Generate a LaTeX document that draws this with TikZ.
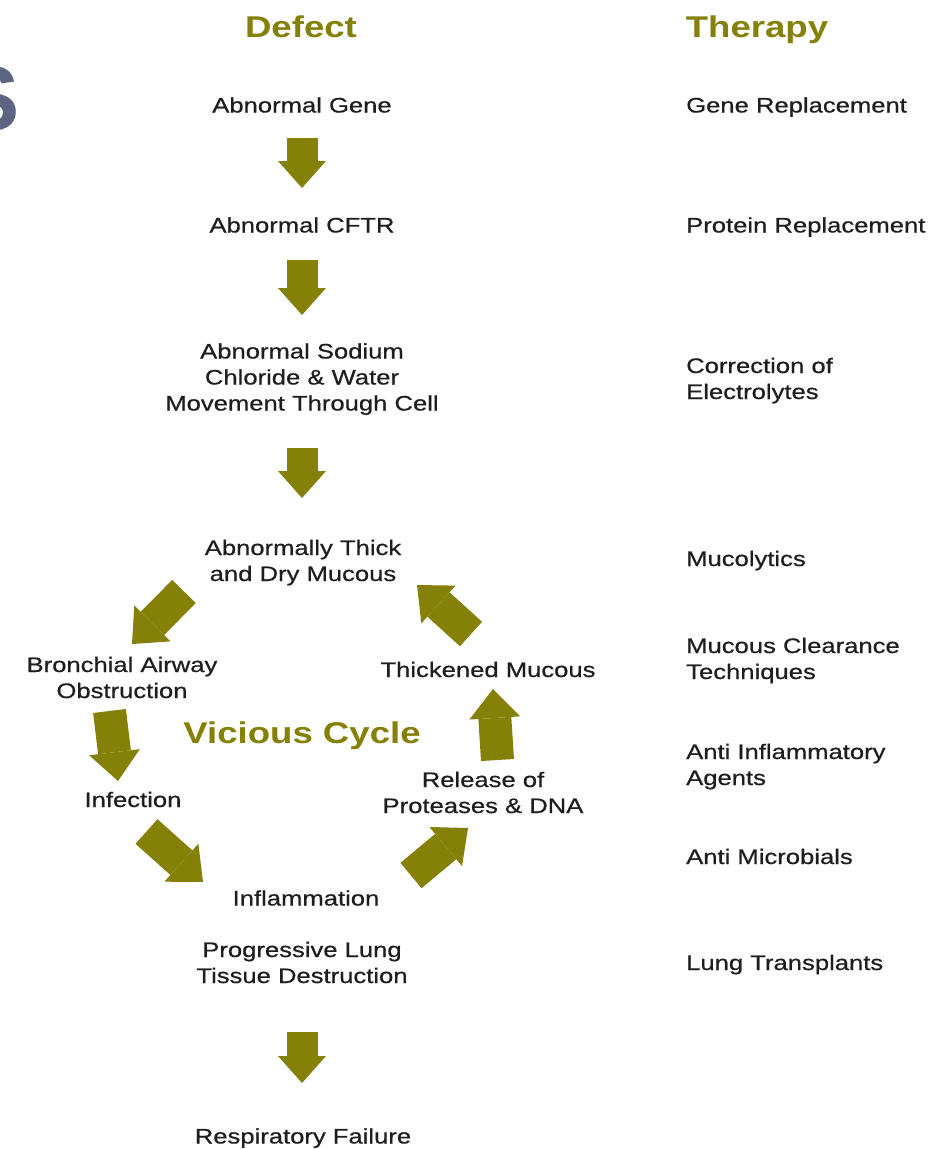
\documentclass[tikz,border=0pt]{standalone}
\usepackage{fontspec}
\setmainfont{Liberation Sans}[FakeStretch=1.22]
\newfontfamily\bodyfont{Liberation Sans}[FakeStretch=1.22,FakeBold=0.6]
\newfontfamily\plainsans{Liberation Sans}
\usetikzlibrary{arrows.meta}
\definecolor{olivec}{RGB}{133,128,8}
\definecolor{slateS}{RGB}{92,100,130}
\definecolor{txtc}{RGB}{30,30,30}
\tikzset{
  txt/.style={anchor=base, inner sep=0pt, align=center, font=\bodyfont\fontsize{21}{26}\selectfont, text=txtc},
  ther/.style={txt, anchor=base west, align=left},
  titlec/.style={anchor=base, inner sep=0pt, font=\fontsize{30}{36}\selectfont\bfseries, text=olivec},
  fat/.style={draw=olivec, line width=31pt, -{Triangle[length=27pt, width=48pt, line width=0pt]}},
  cyc/.style={draw=olivec, line width=33pt, -{Triangle[length=29pt, width=51pt, line width=0pt]}},
}
\begin{document}
\begin{tikzpicture}[x=1pt,y=-1pt]
\useasboundingbox (0,0) rectangle (944,1149);
\fill[white] (0,0) rectangle (944,1149);

% cut-off letter at left edge
\node[anchor=base east, inner sep=0pt, font=\plainsans\fontsize{92}{92}\selectfont\bfseries, text=slateS] (bigS) at (20,130) {S};

% headings
\node[titlec] (defect) at (301,37) {Defect};
\node[titlec] (therapy) at (757,37) {Therapy};

% defect column (multi-line nodes are placed by the baseline of their last line)
\node[txt] (gene) at (302,112.5) {Abnormal Gene};
\node[txt] (cftr) at (302,232.5) {Abnormal CFTR};
\node[txt] (sodium) at (302,410.5) {Abnormal Sodium\\Chloride \& Water\\Movement Through Cell};
\node[txt] (thick) at (303,581) {Abnormally Thick\\and Dry Mucous};
\node[txt] (bronch) at (122,698) {Bronchial Airway\\Obstruction};
\node[txt] (thickened) at (488,677) {Thickened Mucous};
\node[titlec] (vicious) at (302,743) {Vicious Cycle};
\node[txt] (infection) at (133,807) {Infection};
\node[txt] (release) at (483,813) {Release of\\Proteases \& DNA};
\node[txt] (inflam) at (306,905.5) {Inflammation};
\node[txt] (progress) at (302,983) {Progressive Lung\\Tissue Destruction};
\node[txt] (resp) at (303,1143.5) {Respiratory Failure};

% therapy column
\node[ther] (generep) at (686,112.5) {Gene Replacement};
\node[ther] (protrep) at (686,232.5) {Protein Replacement};
\node[ther] (electro) at (686,399) {Correction of\\Electrolytes};
\node[ther] (mucoly) at (686,566) {Mucolytics};
\node[ther] (clear) at (686,679) {Mucous Clearance\\Techniques};
\node[ther] (antiinf) at (686,785) {Anti Inflammatory\\Agents};
\node[ther] (antimic) at (686,864) {Anti Microbials};
\node[ther] (lungtx) at (686,970) {Lung Transplants};

% arrow end points
\coordinate (a1s) at (302,138);  \coordinate (a1e) at (302,188);
\coordinate (a2s) at (302,260);  \coordinate (a2e) at (302,315);
\coordinate (a3s) at (302,448);  \coordinate (a3e) at (302,498);
\coordinate (a4s) at (302,1032); \coordinate (a4e) at (302,1083);
\coordinate (cAs) at (184,591.5); \coordinate (cAe) at (132,644);
\coordinate (cBs) at (109.5,711); \coordinate (cBe) at (118,781);
\coordinate (cCs) at (146.5,831.5); \coordinate (cCe) at (203,882);
\coordinate (cDs) at (411,875.5); \coordinate (cDe) at (468,828);
\coordinate (cEs) at (497.5,760); \coordinate (cEe) at (493,689);
\coordinate (cFs) at (471,634); \coordinate (cFe) at (417,585);

% straight arrows
\draw[fat] (a1s) -- (a1e);
\draw[fat] (a2s) -- (a2e);
\draw[fat] (a3s) -- (a3e);
\draw[fat] (a4s) -- (a4e);

% cycle arrows
\draw[cyc] (cAs) -- (cAe);
\draw[cyc] (cBs) -- (cBe);
\draw[cyc] (cCs) -- (cCe);
\draw[cyc] (cDs) -- (cDe);
\draw[cyc] (cEs) -- (cEe);
\draw[cyc] (cFs) -- (cFe);
\end{tikzpicture}
\end{document}
